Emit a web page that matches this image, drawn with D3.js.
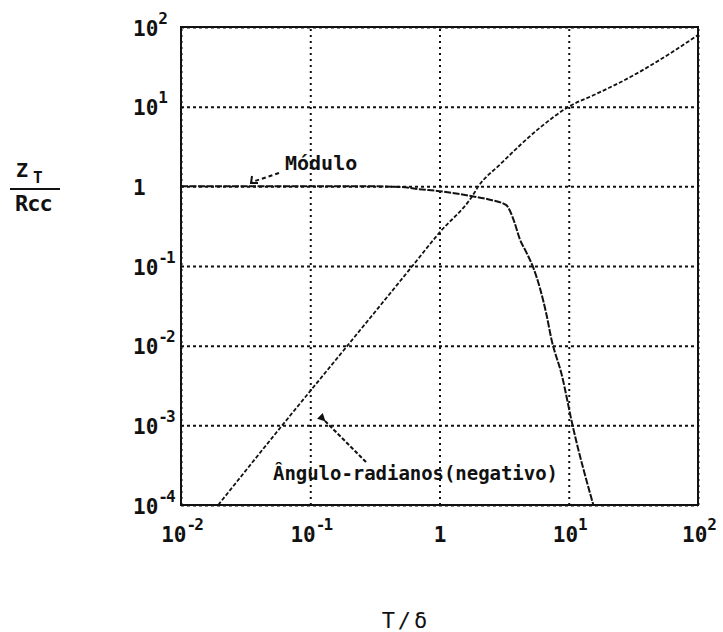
<!DOCTYPE html>
<html>
<head>
<meta charset="utf-8">
<script src="https://cdn.jsdelivr.net/npm/d3@7"></script>
<style>
  body { margin: 0; background: #fff; }
  svg { display: block; }
  text { font-family: "DejaVu Sans Mono", "Liberation Mono", monospace; fill: #111; }
</style>
</head>
<body>
<div id="chart"></div>
<script>
// Zt/Rcc versus T/delta, log-log

// Módulo
const T_MOD = [0.01, 0.316, 0.5, 0.7, 1, 1.71, 2.45, 3.29, 3.49, 3.81, 4.17, 4.7, 5.28, 5.96, 6.71, 7.35, 8.83, 10.7, 15.5];
const Z_MOD = [1, 1, 0.98, 0.92, 0.87, 0.76, 0.68, 0.58, 0.50, 0.35, 0.22, 0.148, 0.098, 0.054, 0.025, 0.012, 0.0043, 0.001, 0.0001];

// Ângulo (radianos, negativo)
const T_ANG = [0.0194, 0.0607, 0.194, 0.617, 1, 1.8, 2.0, 2.92, 6.03, 10, 15.8, 30.2, 61.7, 100];
const A_ANG = [0.0001, 0.001, 0.01, 0.1, 0.263, 0.76, 1, 1.86, 5.5, 10, 14.1, 23.7, 47.3, 79.4];

const X_TICKS = [0.01, 0.1, 1, 10, 100];
const Y_TICKS = [1e-4, 1e-3, 1e-2, 1e-1, 1, 10, 100];

const W = 723, H = 632;
const pLeft = 181, pRight = 698, pTop = 27, pBottom = 505;

const svg = d3.select("#chart").append("svg")
    .attr("width", W).attr("height", H);

const x = d3.scaleLog().domain([0.01, 100]).range([pLeft, pRight]);
const y = d3.scaleLog().domain([1e-4, 100]).range([pBottom, pTop]);

// tick label: 10 with superscript exponent
function tickLabel(sel, d) {
    const e = Math.round(Math.log10(d));
    if (e === 0) { sel.text("1"); return; }
    sel.text("10");
    sel.append("tspan").attr("dy", -12).attr("font-size", 16)
        .attr("letter-spacing", -2)
        .text(e < 0 ? "-" + Math.abs(e) : e);
}

// Grid + x labels
const gx = svg.append("g")
    .attr("transform", `translate(0,${pBottom})`)
    .call(d3.axisBottom(x).tickValues(X_TICKS).tickSize(-(pBottom - pTop)).tickFormat(() => ""));
gx.select(".domain").remove();
gx.selectAll(".tick line")
    .attr("stroke", "#111").attr("stroke-width", 2).attr("stroke-dasharray", "2,4");
gx.selectAll(".tick text").remove();
gx.selectAll(".tick").append("text")
    .attr("y", 37)
    .attr("text-anchor", "middle")
    .attr("font-size", 21).attr("font-weight", "bold")
    .each(function(d) { tickLabel(d3.select(this), d); });

// Grid + y labels
const gy = svg.append("g")
    .attr("transform", `translate(${pLeft},0)`)
    .call(d3.axisLeft(y).tickValues(Y_TICKS).tickSize(-(pRight - pLeft)).tickFormat(() => ""));
gy.select(".domain").remove();
gy.selectAll(".tick line")
    .attr("stroke", "#111").attr("stroke-width", 2).attr("stroke-dasharray", "3,3");
gy.selectAll(".tick text").remove();
gy.selectAll(".tick").append("text")
    .attr("x", -48).attr("y", 8)
    .attr("text-anchor", "start")
    .attr("font-size", 21).attr("font-weight", "bold")
    .each(function(d) { tickLabel(d3.select(this), d); });

// Frame
svg.append("rect")
    .attr("x", pLeft).attr("y", pTop)
    .attr("width", pRight - pLeft).attr("height", pBottom - pTop)
    .attr("fill", "none").attr("stroke", "#111").attr("stroke-width", 2);

// Curves
svg.append("clipPath").attr("id", "plot")
    .append("rect").attr("x", pLeft).attr("y", pTop)
    .attr("width", pRight - pLeft).attr("height", pBottom - pTop);

const line = d3.line().x(d => x(d[0])).y(d => y(d[1])).curve(d3.curveMonotoneX);

svg.append("path")
    .datum(d3.zip(T_MOD, Z_MOD))
    .attr("clip-path", "url(#plot)")
    .attr("fill", "none").attr("stroke", "#111").attr("stroke-width", 2)
    .attr("stroke-dasharray", "7,1.5")
    .attr("d", line);

svg.append("path")
    .datum(d3.zip(T_ANG, A_ANG))
    .attr("clip-path", "url(#plot)")
    .attr("fill", "none").attr("stroke", "#111").attr("stroke-width", 1.8)
    .attr("stroke-dasharray", "4,2")
    .attr("d", line);

// Arrow markers
const defs = svg.append("defs");
defs.append("marker").attr("id", "head")
    .attr("viewBox", "0 0 10 10").attr("refX", 1).attr("refY", 5)
    .attr("markerWidth", 4).attr("markerHeight", 4).attr("orient", "auto-start-reverse")
    .append("path").attr("d", "M10,0 L0,5 L10,10 Z").attr("fill", "#111");

// Annotations
svg.append("text")
    .attr("x", 285).attr("y", 170)
    .attr("font-size", 20).attr("font-weight", "bold")
    .text("Módulo");
svg.append("line")
    .attr("x1", 279).attr("y1", 173).attr("x2", 252).attr("y2", 182)
    .attr("stroke", "#111").attr("stroke-width", 2).attr("stroke-dasharray", "4,3");
svg.append("path")
    .attr("d", "M252,176 L251,183 L258,183")
    .attr("fill", "none").attr("stroke", "#111").attr("stroke-width", 2);

svg.append("text")
    .attr("x", 273).attr("y", 480)
    .attr("font-size", 19).attr("font-weight", "bold")
    .attr("textLength", 285)
    .text("Ângulo-radianos(negativo)");
svg.append("line")
    .attr("x1", 366).attr("y1", 462).attr("x2", 325).attr("y2", 421)
    .attr("stroke", "#111").attr("stroke-width", 2).attr("stroke-dasharray", "4,2")
    .attr("marker-end", "url(#head)");

// Axis titles
const yt = svg.append("g").attr("font-weight", "bold");
yt.append("text").attr("x", 16).attr("y", 177).attr("font-size", 20).text("Z");
yt.append("text").attr("x", 33).attr("y", 183).attr("font-size", 16).text("T");
yt.append("line")
    .attr("x1", 10).attr("x2", 60).attr("y1", 189).attr("y2", 189)
    .attr("stroke", "#111").attr("stroke-width", 2);
yt.append("text").attr("x", 15).attr("y", 211).attr("font-size", 22)
    .attr("letter-spacing", -1).text("Rcc");

svg.append("text")
    .attr("x", 406).attr("y", 628)
    .attr("text-anchor", "middle")
    .attr("font-size", 22).attr("letter-spacing", 3)
    .text("T/δ");
</script>
</body>
</html>
